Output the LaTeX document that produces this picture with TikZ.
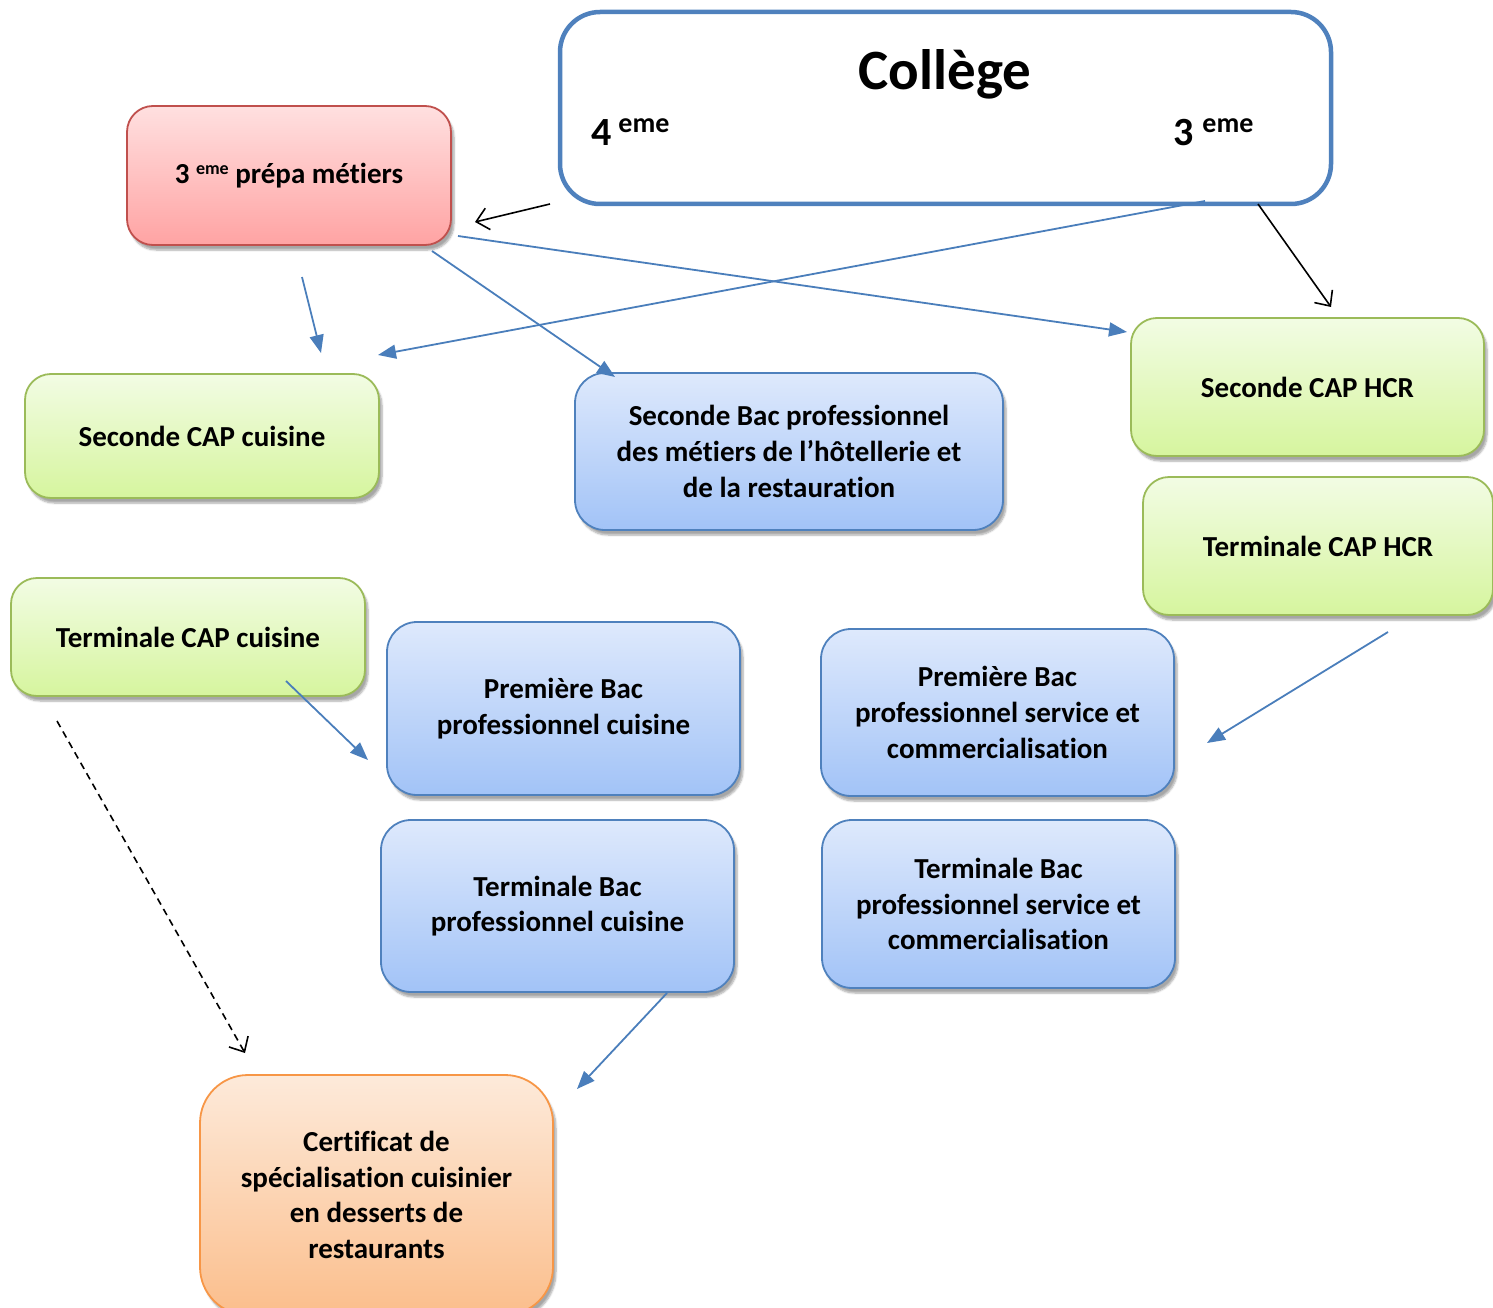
\documentclass[tikz,border=0pt]{standalone}
\usepackage{fontspec}
\setmainfont{Carlito}[Ligatures=NoCommon]
\usetikzlibrary{arrows.meta,shadows.blur}
\definecolor{bord}{RGB}{79,129,189}
\definecolor{arr}{RGB}{74,126,187}
\definecolor{redtop}{RGB}{255,224,224}
\definecolor{redbot}{RGB}{255,163,163}
\definecolor{redbd}{RGB}{192,80,77}
\definecolor{grtop}{RGB}{242,252,228}
\definecolor{grbot}{RGB}{214,245,158}
\definecolor{grbd}{RGB}{155,187,89}
\definecolor{bltop}{RGB}{222,233,252}
\definecolor{blbot}{RGB}{162,195,247}
\definecolor{ortop}{RGB}{253,234,218}
\definecolor{orbot}{RGB}{251,190,140}
\definecolor{orbd}{RGB}{247,150,70}
\tikzset{
  boxbase/.style={rectangle, inner sep=0pt, align=center, line width=1.8pt,
    font=\fontsize{29}{35.7}\selectfont\bfseries,
    blur shadow={shadow xshift=3pt, shadow yshift=-5pt, shadow blur steps=6, shadow opacity=35}},
  redbox/.style={boxbase, draw=redbd, top color=redtop, bottom color=redbot, rounded corners=26pt},
  greenbox/.style={boxbase, draw=grbd, top color=grtop, bottom color=grbot, rounded corners=26pt},
  bluebox/.style={boxbase, draw=bord, top color=bltop, bottom color=blbot, rounded corners=30pt},
  orangebox/.style={boxbase, draw=orbd, top color=ortop, bottom color=orbot, rounded corners=48pt},
  bluearrow/.style={draw=arr, line width=1.8pt, -{Triangle[length=18pt,width=14pt]}},
  blackarrow/.style={draw=black, line width=1.6pt, -{Straight Barb[length=12pt,width=22pt,line width=1.6pt]}},
}
\begin{document}
\begin{tikzpicture}[x=1pt,y=-1pt]
\useasboundingbox (0,0) rectangle (1493,1308);
% College
\node[draw=bord, line width=4.5pt, fill=white, rounded corners=40pt, minimum width=771pt, minimum height=192pt, inner sep=0pt] (col) at (945.5,108) {};
\node[font=\fontsize{57}{60}\selectfont\bfseries, anchor=base, inner sep=0pt] (colt) at (945,90) {Collège};
\node[anchor=base west, inner sep=0pt, font=\fontsize{40}{44}\selectfont\bfseries] (q) at (591,146) {4\hspace{7pt}\raisebox{13pt}{\fontsize{28}{30}\selectfont eme}};
\node[anchor=base west, inner sep=0pt, font=\fontsize{40}{44}\selectfont\bfseries] (t) at (1173,146) {3\hspace{9pt}\raisebox{13pt}{\fontsize{28}{30}\selectfont eme}};
% boxes
\node[redbox, minimum width=324pt, minimum height=139pt] (prepa) at (289,175.5) {\raisebox{-3pt}{3 \raisebox{9pt}{\fontsize{18}{20}\selectfont eme} prépa métiers}};
\node[greenbox, minimum width=354pt, minimum height=124pt] (scc) at (202,436) {Seconde CAP cuisine};
\node[bluebox, minimum width=428pt, minimum height=157pt] (sbp) at (789,451.5) {Seconde Bac professionnel\\des métiers de l’hôtellerie et\\de la restauration};
\node[greenbox, minimum width=353pt, minimum height=138pt] (shcr) at (1307.5,387) {Seconde CAP HCR};
\node[greenbox, minimum width=350pt, minimum height=138pt] (thcr) at (1318,546) {Terminale CAP HCR};
\node[greenbox, minimum width=354pt, minimum height=118pt] (tcc) at (188,637) {Terminale CAP cuisine};
\node[bluebox, minimum width=353pt, minimum height=173pt] (pbc) at (563.5,708.5) {Première Bac\\professionnel cuisine};
\node[bluebox, minimum width=353pt, minimum height=167pt] (pbs) at (997.5,712.5) {Première Bac\\professionnel service et\\commercialisation};
\node[bluebox, minimum width=353pt, minimum height=172pt] (tbc) at (557.5,906) {Terminale Bac\\professionnel cuisine};
\node[bluebox, minimum width=353pt, minimum height=168pt] (tbs) at (998.5,904) {Terminale Bac\\professionnel service et\\commercialisation};
\node[orangebox, minimum width=353pt, minimum height=240pt] (cert) at (376.5,1195) {Certificat de\\spécialisation cuisinier\\en desserts de\\restaurants};
% connector endpoints
\coordinate (a1s) at (550,204); \coordinate (a1e) at (475,222);
\coordinate (a2s) at (1205,201); \coordinate (a2e) at (378,355);
\coordinate (a3s) at (1258,204); \coordinate (a3e) at (1331,307);
\coordinate (a4s) at (458,236); \coordinate (a4e) at (1127,332);
\coordinate (a5s) at (432,251); \coordinate (a5e) at (615,377);
\coordinate (a6s) at (302,277); \coordinate (a6e) at (321,353);
\coordinate (a7s) at (1388,632); \coordinate (a7e) at (1207,743);
\coordinate (a8s) at (286,681); \coordinate (a8e) at (368,760);
\coordinate (a9s) at (57,721); \coordinate (a9e) at (245,1053);
\coordinate (a10s) at (667,993); \coordinate (a10e) at (577,1089);
\draw[blackarrow] (a1s) -- (a1e);
\draw[bluearrow] (a2s) -- (a2e);
\draw[blackarrow] (a3s) -- (a3e);
\draw[bluearrow] (a4s) -- (a4e);
\draw[bluearrow] (a5s) -- (a5e);
\draw[bluearrow] (a6s) -- (a6e);
\draw[bluearrow] (a7s) -- (a7e);
\draw[bluearrow] (a8s) -- (a8e);
\draw[blackarrow, dashed, dash pattern=on 7pt off 5pt] (a9s) -- (a9e);
\draw[bluearrow] (a10s) -- (a10e);
\end{tikzpicture}
\end{document}
